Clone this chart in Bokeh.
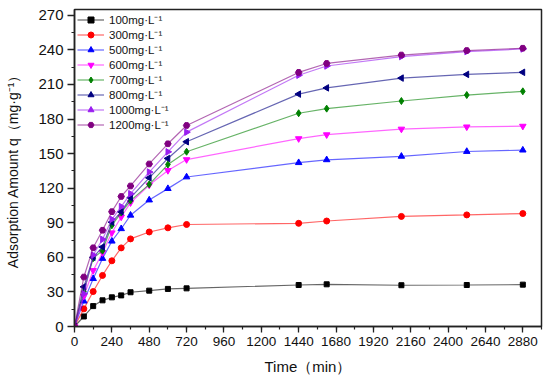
import numpy as np
from bokeh.plotting import figure
from bokeh.models import FixedTicker
from bokeh.embed import file_html
from bokeh.resources import INLINE

time_min = [0, 60, 120, 180, 240, 300, 360, 480, 600, 720, 1440, 1620, 2100, 2520, 2880]

q100 = [0, 8.7, 17.7, 22.7, 25.3, 27.0, 29.7, 31.1, 32.6, 33.1, 36.0, 36.6, 35.8, 36.0, 36.3]
q300 = [0, 15.3, 30.3, 44.3, 57.0, 68.2, 76.0, 82.0, 85.6, 88.5, 89.5, 91.5, 95.5, 96.8, 98.0]
q500 = [0, 22.0, 41.5, 59.0, 74.0, 84.8, 96.5, 109.7, 119.6, 129.7, 142.1, 144.6, 147.6, 151.8, 153.0]
q600 = [0, 26.4, 48.6, 64.1, 81.3, 95.0, 107.4, 122.7, 135.4, 144.8, 163.0, 166.4, 171.3, 173.2, 173.8]
q700 = [0, 30.2, 59.3, 65.8, 87.8, 98.8, 109.2, 123.3, 140.5, 151.6, 185.0, 189.0, 195.6, 200.8, 204.0]
q800 = [0, 34.4, 60.0, 69.0, 90.5, 99.5, 111.8, 129.0, 145.8, 160.3, 201.6, 207.0, 215.5, 218.7, 220.5]
q1000 = [0, 28.5, 62.0, 75.6, 93.0, 104.0, 115.2, 134.0, 151.5, 168.6, 218.0, 226.0, 234.2, 238.5, 240.8]
q1200 = [0, 42.9, 68.3, 83.5, 99.6, 112.8, 121.9, 141.0, 158.5, 174.4, 220.4, 228.2, 235.5, 239.4, 241.4]

labels = ["100mg·L⁻¹", "300mg·L⁻¹", "500mg·L⁻¹", "600mg·L⁻¹",
          "700mg·L⁻¹", "800mg·L⁻¹", "1000mg·L⁻¹", "1200mg·L⁻¹"]
x_ticks = [0, 240, 480, 720, 960, 1200, 1440, 1680, 1920, 2160, 2400, 2640, 2880]
y_ticks = [0, 30, 60, 90, 120, 150, 180, 210, 240, 270]

series = [q100, q300, q500, q600, q700, q800, q1000, q1200]
colors = ["#000000", "#FF0000", "#0000FF", "#FF00FF", "#008000", "#000080", "#9A1EF0", "#800080"]
markers = ["square", "circle", "triangle", "inverted_triangle", "diamond", "triangle", "triangle", "hex"]
angles = [0, 0, 0, 0, 0, np.pi / 2, -np.pi / 2, 0]
sizes = [5, 6, 6.5, 6.5, 7, 6.5, 6.5, 6.5]

FONT = "Liberation Sans"

p = figure(width=550, height=383, x_range=(0, 3000), y_range=(0, 275),
           output_backend="svg", toolbar_location=None,
           min_border_left=74, min_border_right=9, min_border_top=9, min_border_bottom=57)
p.grid.visible = False
p.outline_line_color = "#222222"
p.outline_line_width = 1.5
p.background_fill_color = "white"
p.border_fill_color = "white"

for lab, ys, c, m, a, s in zip(labels, series, colors, markers, angles, sizes):
    p.line(time_min, ys, line_color=c, line_width=1.2, line_alpha=0.6, legend_label=lab)
    p.scatter(time_min, ys, marker=m, angle=a, size=s, fill_color=c, line_color=c, legend_label=lab)

p.xaxis.ticker = FixedTicker(ticks=x_ticks, minor_ticks=list(range(0, 3001, 120)))
p.yaxis.ticker = FixedTicker(ticks=y_ticks, minor_ticks=list(range(0, 276, 15)))

for ax in (p.xaxis[0], p.yaxis[0]):
    ax.axis_line_width = 1.5
    ax.axis_line_color = "#222222"
    ax.major_tick_out = 6
    ax.major_tick_in = 0
    ax.minor_tick_out = 3
    ax.minor_tick_in = 0
    ax.major_tick_line_width = 1.3
    ax.minor_tick_line_width = 1.2
    ax.major_tick_line_color = "#222222"
    ax.minor_tick_line_color = "#222222"
    ax.major_label_text_font = FONT
    ax.major_label_text_color = "#111111"
    ax.axis_label_text_font = FONT
    ax.axis_label_text_font_style = "normal"
    ax.axis_label_text_color = "#111111"

p.xaxis.major_label_text_font_size = "13.5px"
p.xaxis.major_label_standoff = 4
p.xaxis.axis_label = "Time（min）"
p.xaxis.axis_label_text_font_size = "15px"
p.xaxis.axis_label_standoff = 9

p.yaxis.major_tick_out = 7
p.yaxis.major_label_text_font_size = "15px"
p.yaxis.major_label_standoff = 4
p.yaxis.axis_label = "Adsorption Amount q（mg·g⁻¹）"
p.yaxis.axis_label_text_font_size = "14px"
p.yaxis.axis_label_standoff = 14

lg = p.legend[0]
lg.location = "top_left"
lg.border_line_alpha = 0
lg.background_fill_alpha = 0
lg.label_text_font = FONT
lg.label_text_font_size = "11.5px"
lg.label_text_color = "#111111"
lg.spacing = 0
lg.label_height = 15
lg.glyph_height = 15
lg.glyph_width = 27
lg.padding = 1
lg.margin = 2
lg.label_standoff = 5

open("out.html", "w").write(file_html(p, INLINE))
